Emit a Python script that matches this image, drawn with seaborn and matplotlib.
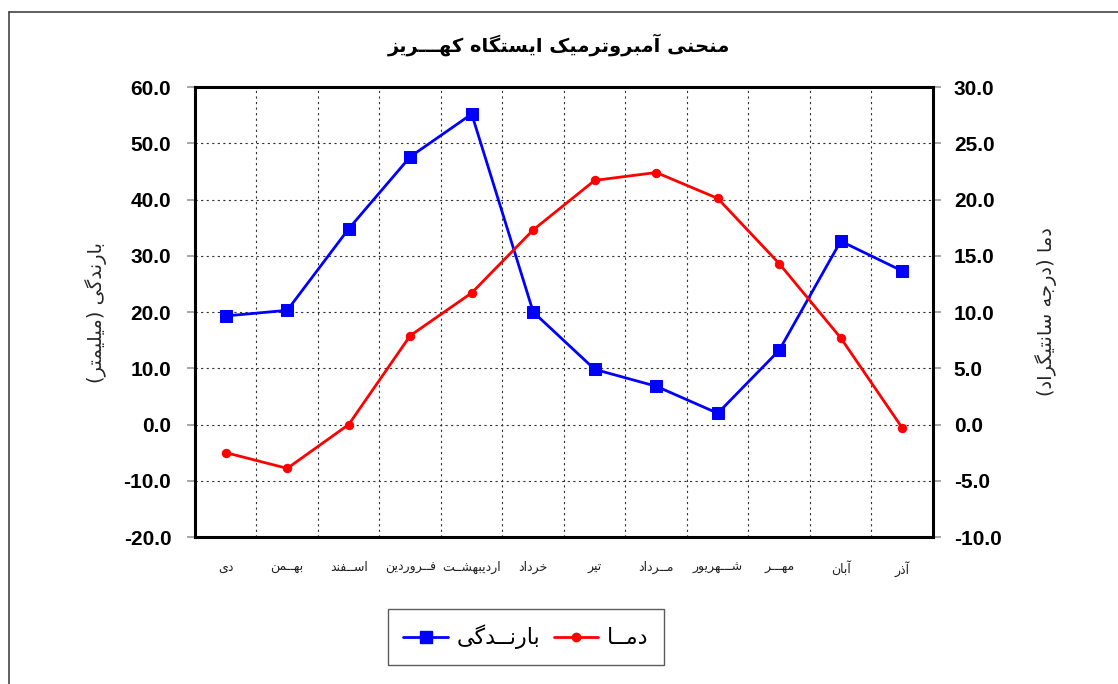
import numpy as np
import pandas as pd
import matplotlib
matplotlib.use("Agg")
import matplotlib.pyplot as plt
from matplotlib.lines import Line2D
import seaborn as sns

# --- data ---
months = ["دی", "بهــمن", "اســفند", "فــروردین", "اردیبهشــت", "خرداد",
          "تیر", "مــرداد", "شـــهریور", "مهـــر", "آبان", "آذر"]
rain_mm = [19.3, 20.3, 34.8, 47.6, 55.2, 20.0, 9.8, 6.8, 2.0, 13.2, 32.6, 27.3]
temp_c = [-2.5, -3.9, 0.0, 7.9, 11.7, 17.3, 21.7, 22.4, 20.1, 14.3, 7.7, -0.3]

title_txt = "منحنی آمبروترمیک ایستگاه کهـــریز"
rain_label = "بارندگی (میلیمتر)"
temp_label = "دما (درجه سانتیگراد)"
rain_legend = "بارنــدگی"
temp_legend = "دمــا"

left_ticks = np.arange(-20, 61, 10)
right_ticks = np.arange(-10, 31, 5)

# --- minimal Arabic/Persian shaping (matplotlib has no bidi) ---
# letter: (isolated, final, initial, medial); two forms => right-joining only
FORMS = {
    "ا": (0xFE8D, 0xFE8E), "آ": (0xFE81, 0xFE82),
    "ب": (0xFE8F, 0xFE90, 0xFE91, 0xFE92), "پ": (0xFB56, 0xFB57, 0xFB58, 0xFB59),
    "ت": (0xFE95, 0xFE96, 0xFE97, 0xFE98), "ث": (0xFE99, 0xFE9A, 0xFE9B, 0xFE9C),
    "ج": (0xFE9D, 0xFE9E, 0xFE9F, 0xFEA0), "چ": (0xFB7A, 0xFB7B, 0xFB7C, 0xFB7D),
    "ح": (0xFEA1, 0xFEA2, 0xFEA3, 0xFEA4), "خ": (0xFEA5, 0xFEA6, 0xFEA7, 0xFEA8),
    "د": (0xFEA9, 0xFEAA), "ذ": (0xFEAB, 0xFEAC), "ر": (0xFEAD, 0xFEAE),
    "ز": (0xFEAF, 0xFEB0), "ژ": (0xFB8A, 0xFB8B),
    "س": (0xFEB1, 0xFEB2, 0xFEB3, 0xFEB4), "ش": (0xFEB5, 0xFEB6, 0xFEB7, 0xFEB8),
    "ف": (0xFED1, 0xFED2, 0xFED3, 0xFED4), "ق": (0xFED5, 0xFED6, 0xFED7, 0xFED8),
    "ک": (0xFB8E, 0xFB8F, 0xFB90, 0xFB91), "گ": (0xFB92, 0xFB93, 0xFB94, 0xFB95),
    "ل": (0xFEDD, 0xFEDE, 0xFEDF, 0xFEE0), "م": (0xFEE1, 0xFEE2, 0xFEE3, 0xFEE4),
    "ن": (0xFEE5, 0xFEE6, 0xFEE7, 0xFEE8), "و": (0xFEED, 0xFEEE),
    "ه": (0xFEE9, 0xFEEA, 0xFEEB, 0xFEEC), "ی": (0xFBFC, 0xFBFD, 0xFBFE, 0xFBFF),
}
TATWEEL = "ـ"


def joins_next(ch):
    return ch == TATWEEL or (ch in FORMS and len(FORMS[ch]) == 4)


def joins_prev(ch):
    return ch == TATWEEL or ch in FORMS


def fa(text):
    out = []
    for i, ch in enumerate(text):
        if ch not in FORMS:
            out.append(ch)
            continue
        f = FORMS[ch]
        prev_ok = i > 0 and joins_next(text[i - 1])
        next_ok = i + 1 < len(text) and joins_prev(text[i + 1]) and len(f) == 4
        if prev_ok and next_ok:
            code = f[3]
        elif prev_ok:
            code = f[1]
        elif next_ok:
            code = f[2]
        else:
            code = f[0]
        out.append(chr(code))
    vis = "".join(out)[::-1]
    return vis.translate(str.maketrans("()", ")("))


df = pd.DataFrame({"pos": range(len(months)), "rain": rain_mm, "temp": temp_c})

sns.set_theme(style="white")
plt.rcParams["font.family"] = ["Liberation Sans", "DejaVu Sans"]
plt.rcParams["text.color"] = "black"
plt.rcParams["ytick.labelcolor"] = "black"
AR = ["DejaVu Sans"]

fig = plt.figure(figsize=(11.18, 6.84), dpi=100)
ax = fig.add_axes([0.1744, 0.2149, 0.8345 - 0.1744, 0.8728 - 0.2149])
ax2 = ax.twinx()

sns.lineplot(data=df, x="pos", y="rain", ax=ax, color="#0000FF", marker="s",
             markersize=8, markeredgecolor="#0000FF", linewidth=2)
sns.lineplot(data=df, x="pos", y="temp", ax=ax2, color="#FF0000", marker="o",
             markersize=6, markeredgecolor="#FF0000", linewidth=2)

ax.set_xlim(-0.5, len(months) - 0.5)
ax.set_ylim(left_ticks[0], left_ticks[-1])
ax2.set_ylim(right_ticks[0], right_ticks[-1])
ax.set_yticks(left_ticks)
ax2.set_yticks(right_ticks)
ax.set_yticklabels([f"{v:.1f}" for v in left_ticks], fontsize=15, fontweight="bold", color="black")
ax2.set_yticklabels([f"{v:.1f}" for v in right_ticks], fontsize=15, fontweight="bold", color="black")

ax.set_xticks(range(len(months)))
ax.set_xticklabels([fa(m) for m in months], family=AR, fontsize=9, color="#222222")
ax.set_xticks(np.arange(0.5, len(months) - 1, 1), minor=True)
ax.tick_params(axis="x", which="both", length=0, pad=17)
ax.tick_params(axis="y", length=6, width=1.2, color="#999999", pad=11, direction="out")
ax2.tick_params(axis="y", length=6, width=1.2, color="#999999", pad=9, direction="out")

ax.grid(True, axis="y", which="major", linestyle=(0, (2, 3)), color="#333333", linewidth=0.8)
ax.grid(True, axis="x", which="minor", linestyle=(0, (2, 3)), color="#333333", linewidth=0.8)
ax.set_axisbelow(True)

for sp in ax.spines.values():
    sp.set_visible(False)
for sp in ax2.spines.values():
    sp.set_color("black")
    sp.set_linewidth(2.2)

ax.set_xlabel("")
ax.set_ylabel(fa(rain_label), family=AR, fontsize=14, labelpad=12)
ax2.set_ylabel(fa(temp_label), family=AR, fontsize=14, labelpad=24, rotation=90)

fig.text(0.5, 0.935, fa(title_txt), family=AR, fontsize=14, fontweight="bold",
         ha="center", va="center")

handles = [Line2D([], [], color="#0000FF", marker="s", markersize=8, linewidth=2),
           Line2D([], [], color="#FF0000", marker="o", markersize=6, linewidth=2)]
leg = fig.legend(handles, [fa(rain_legend), fa(temp_legend)], loc="center",
                 bbox_to_anchor=(0.4705, 0.0687), ncol=2, frameon=True,
                 fancybox=False, prop={"family": AR, "size": 16},
                 handlelength=2.0, handletextpad=0.4, columnspacing=0.6,
                 borderpad=0.7)
leg.get_frame().set_edgecolor("#333333")
leg.get_frame().set_linewidth(1.0)

# outer frame lines (top and left)
fig.add_artist(Line2D([9 / 1118, 9 / 1118], [0, 1 - 12 / 684], transform=fig.transFigure,
                      color="#444444", linewidth=1.2))
fig.add_artist(Line2D([9 / 1118, 1], [1 - 12 / 684, 1 - 12 / 684], transform=fig.transFigure,
                      color="#444444", linewidth=1.2))

fig.savefig("out.png", dpi=100)
